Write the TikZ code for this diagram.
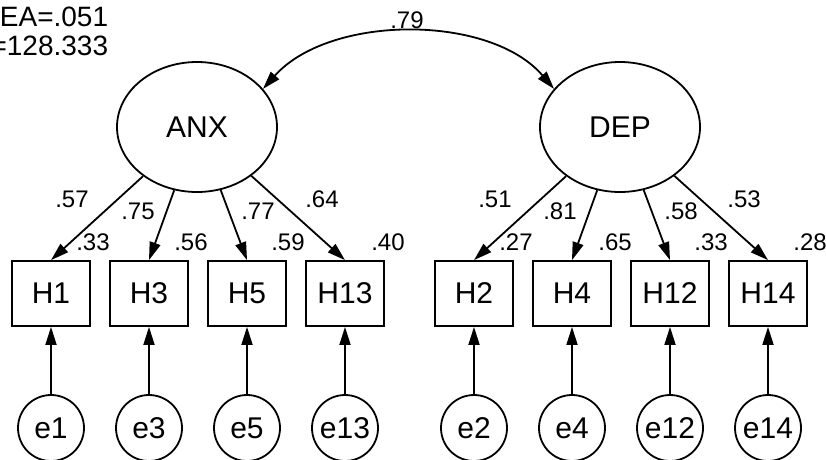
\documentclass[tikz,border=0pt]{standalone}
\usepackage{fontspec}
\setmainfont{Liberation Sans}
\usetikzlibrary{shapes.geometric,arrows.meta}
\begin{document}
\begin{tikzpicture}[x=1pt,y=-1pt,
  line width=1.8pt,
  big/.style={font=\fontsize{30}{36}\selectfont},
  fit/.style={font=\fontsize{28}{34}\selectfont,anchor=base east,inner sep=0pt},
  lab/.style={font=\fontsize{24}{29}\selectfont,inner sep=0pt},
  latent/.style={draw,ellipse,minimum width=160pt,minimum height=130pt,inner sep=0pt,big},
  obs/.style={draw,rectangle,minimum width=78pt,minimum height=65pt,inner sep=0pt,big},
  err/.style={draw,circle,minimum size=66pt,inner sep=0pt,big},
  arr/.style={-{Triangle[length=18pt,width=11pt]}},
  darr/.style={{Triangle[length=18pt,width=11pt]}-{Triangle[length=18pt,width=11pt]}}]
\useasboundingbox (0,0) rectangle (826,459);

% fit text (clipped at left edge, as in the reference)
\node[fit] (fit1) at (109,26) {EA=.051};
\node[fit] (fit2) at (109,55) {=128.333};

% latent variables
\node[latent] (ANX) at (197,127) {ANX};
\node[latent] (DEP) at (620,127) {DEP};

% observed
\foreach \n/\x in {H1/51,H3/149,H5/247,H13/345,H2/474,H4/572,H12/670,H14/768}{
  \node[obs] (\n) at (\x,293.5) {\n};
}
% errors
\foreach \n/\x in {e1/51,e3/149,e5/247,e13/345,e2/474,e4/572,e12/670,e14/768}{
  \node[err] (\n) at (\x,428) {\n};
}

% loadings
\foreach \h in {H1,H3,H5,H13}{ \draw[arr] (ANX) -- (\h.north); }
\foreach \h in {H2,H4,H12,H14}{ \draw[arr] (DEP) -- (\h.north); }

% error paths
\foreach \e/\h in {e1/H1,e3/H3,e5/H5,e13/H13,e2/H2,e4/H4,e12/H12,e14/H14}{
  \draw[arr] (\e.north) -- (\h.south);
}

% covariance
\draw[darr] (ANX.30) .. controls (330,14) and (490,14) .. (DEP.150);

% labels
\node[lab] (l79) at (407,20) {.79};
\node[lab] (l57) at (72,199) {.57};
\node[lab] (l75) at (138,211) {.75};
\node[lab] (l77) at (258,211) {.77};
\node[lab] (l64) at (322,199) {.64};
\node[lab] (l33a) at (93,242) {.33};
\node[lab] (l56) at (191,242) {.56};
\node[lab] (l59) at (288,242) {.59};
\node[lab] (l40) at (388,242) {.40};
\node[lab] (l51) at (495,199) {.51};
\node[lab] (l81) at (560,211) {.81};
\node[lab] (l58) at (681,211) {.58};
\node[lab] (l53) at (744,199) {.53};
\node[lab] (l27) at (516,242) {.27};
\node[lab] (l65) at (615,242) {.65};
\node[lab] (l33b) at (711,242) {.33};
\node[lab] (l28) at (810,242) {.28};
\end{tikzpicture}
\end{document}
